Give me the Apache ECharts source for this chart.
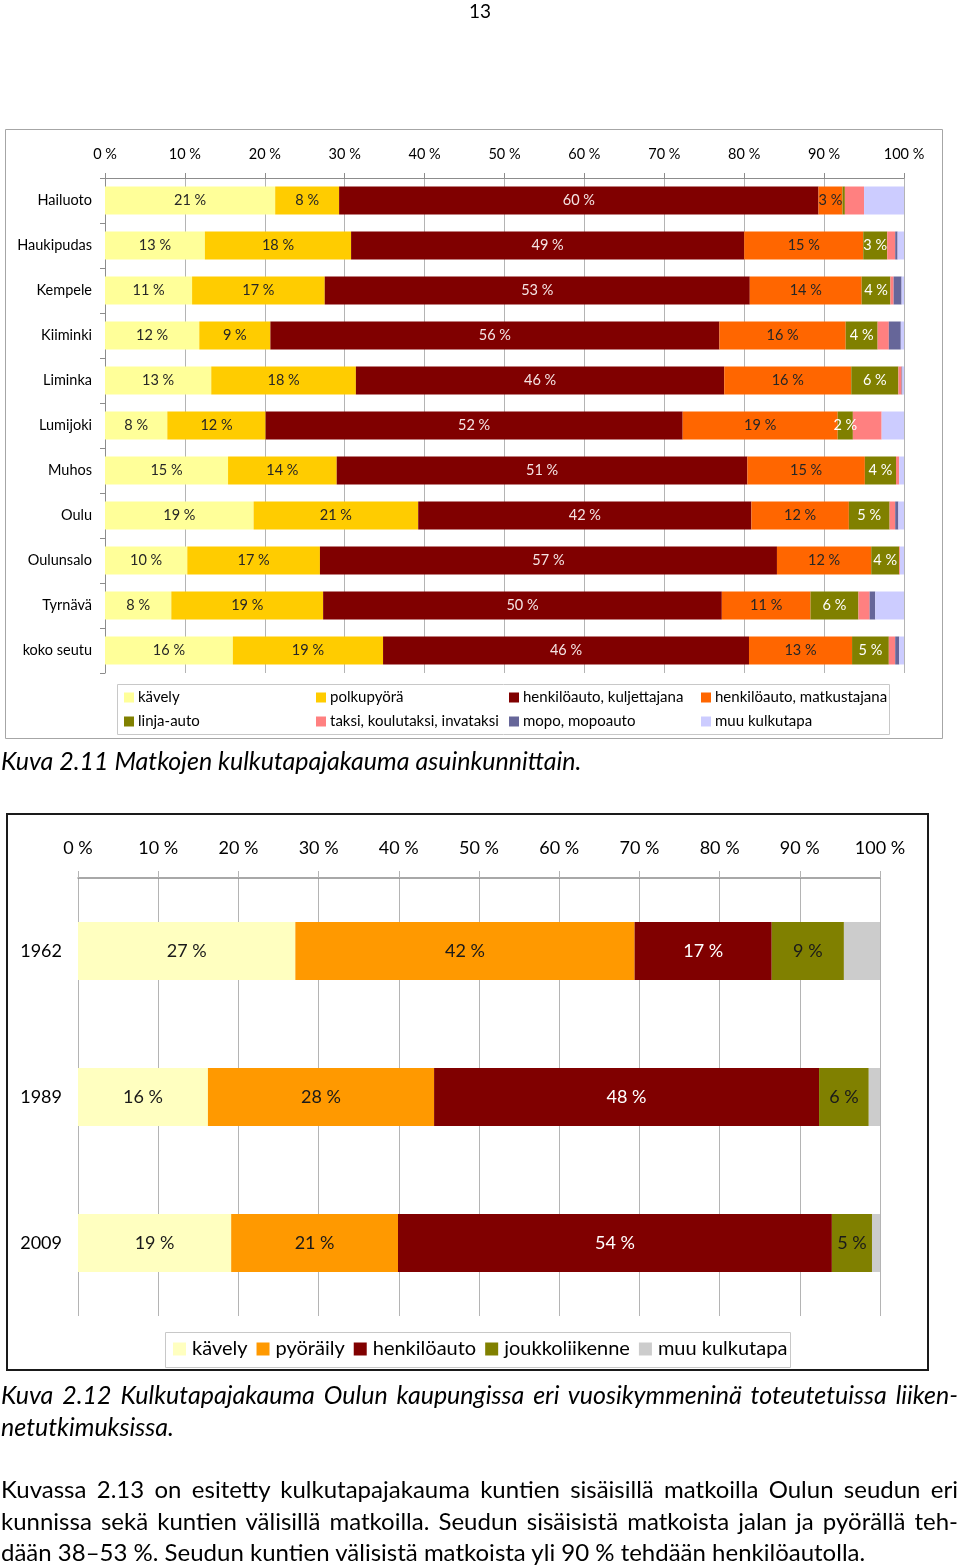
<!DOCTYPE html>
<html>
<head>
<meta charset="utf-8">
<script src="https://cdn.jsdelivr.net/npm/echarts@6/dist/echarts.min.js"></script>
<style>
  html, body { margin: 0; padding: 0; background: #fff; }
  #page { position: relative; width: 960px; height: 1566px; overflow: hidden; }
  #chart { position: absolute; left: 0; top: 0; width: 960px; height: 1566px; }
  .txt { position: absolute; font-family: Lato, "Noto Sans", sans-serif; color: #000; white-space: nowrap; line-height: 30px; }
  .line { position: absolute; left: 1px; width: 957px; font-family: Lato, "Noto Sans", sans-serif; font-size: 24px; line-height: 30px; text-align: justify; text-align-last: justify; white-space: nowrap; color: #000; }
  .line.last { text-align-last: left; }
  .it { font-style: italic; font-size: 25px; }
</style>
</head>
<body>
<div id="page">
  <div id="chart"></div>
  <div class="txt" style="left:469px; top:-4px; font-size:19px;">13</div>
  <div class="txt it" style="left:1px; top:745px;">Kuva 2.11 Matkojen kulkutapajakauma asuinkunnittain.</div>
  <div class="line it" style="top:1379px;">Kuva 2.12 Kulkutapajakauma Oulun kaupungissa eri vuosikymmeninä toteutetuissa liiken-</div>
  <div class="line it last" style="top:1411px;">netutkimuksissa.</div>
  <div class="line" style="top:1474px;">Kuvassa 2.13 on esitetty kulkutapajakauma kuntien sisäisillä matkoilla Oulun seudun eri</div>
  <div class="line" style="top:1506px;">kunnissa sekä kuntien välisillä matkoilla. Seudun sisäisistä matkoista jalan ja pyörällä teh-</div>
  <div class="line last" style="top:1537px;">dään 38–53 %. Seudun kuntien välisistä matkoista yli 90 % tehdään henkilöautolla.</div>
</div>
<script>
// ---------- Chart 1: Kuva 2.11 ----------
var municipalities = ['Hailuoto','Haukipudas','Kempele','Kiiminki','Liminka','Lumijoki','Muhos','Oulu','Oulunsalo','Tyrnävä','koko seutu'];
var modeNames1 = ['kävely','polkupyörä','henkilöauto, kuljettajana','henkilöauto, matkustajana','linja-auto','taksi, koulutaksi, invataksi','mopo, mopoauto','muu kulkutapa'];
var kavely      = [21.3, 12.5, 10.9, 11.8, 13.3,  7.8, 15.4, 18.6, 10.3,  8.3, 16.0];
var polkupyora  = [ 8.0, 18.3, 16.6,  8.9, 18.1, 12.3, 13.6, 20.6, 16.6, 19.0, 18.8];
var kuljettaja  = [60.0, 49.2, 53.2, 56.2, 46.1, 52.2, 51.4, 41.7, 57.2, 49.9, 45.8];
var matkustaja  = [ 3.0, 14.9, 14.0, 15.8, 15.9, 19.4, 14.7, 12.2, 11.8, 11.1, 12.9];
var linjaauto   = [ 0.3,  3.0,  3.6,  4.0,  5.9,  1.9,  3.9,  5.1,  3.5,  6.0,  4.6];
var taksi       = [ 2.4,  1.0,  0.4,  1.4,  0.4,  3.6,  0.4,  0.7,  0.1,  1.4,  0.8];
var mopo        = [ 0.0,  0.3,  1.0,  1.5,  0.1,  0.0,  0.0,  0.4,  0.0,  0.7,  0.5];
var muu1        = [ 5.0,  0.8,  0.3,  0.4,  0.2,  2.8,  0.6,  0.7,  0.5,  3.6,  0.6];

// ---------- Chart 2: Kuva 2.12 ----------
var years = ['1962','1989','2009'];
var modeNames2 = ['kävely','pyöräily','henkilöauto','joukkoliikenne','muu kulkutapa'];
var kavely2   = [27.1, 16.2, 19.1];
var pyoraily  = [42.3, 28.2, 20.8];
var auto2     = [17.1, 48.0, 54.1];
var joukko    = [ 9.0,  6.2,  5.0];
var muu2      = [ 4.5,  1.4,  1.0];

var tickValues = [0,10,20,30,40,50,60,70,80,90,100];

var colors1 = ['#FFFF99','#FFCC00','#800000','#FF6600','#808000','#FF8080','#666699','#CCCCFF'];
var labelColors1 = ['#262626','#262626','#F5E4E4','#262626','#FFFFFF', null, null, null];
var colors2 = ['#FFFFC0','#FF9900','#800000','#808000','#CCCCCC'];
var labelColors2 = ['#1a1a1a','#1a1a1a','#FFFFFF','#1a1a1a', null];

var FONT = 'Lato, "Noto Sans", sans-serif';

function normalize(seriesArr) {
  var n = seriesArr[0].length;
  var totals = [];
  for (var i = 0; i < n; i++) {
    var s = 0;
    seriesArr.forEach(function (a) { s += a[i]; });
    totals.push(s);
  }
  return seriesArr.map(function (a) { return a.map(function (v, i) { return v / totals[i] * 100; }); });
}

var raw1 = [kavely, polkupyora, kuljettaja, matkustaja, linjaauto, taksi, mopo, muu1];
var norm1 = normalize(raw1);
var raw2 = [kavely2, pyoraily, auto2, joukko, muu2];
var norm2 = normalize(raw2);

var series = [];
raw1.forEach(function (arr, k) {
  series.push({
    name: modeNames1[k],
    type: 'bar',
    stack: 's1',
    xAxisIndex: 0, yAxisIndex: 0,
    barWidth: 28,
    data: norm1[k],
    itemStyle: { color: colors1[k] },
    label: {
      show: labelColors1[k] !== null,
      position: 'inside',
      color: labelColors1[k] || '#000',
      fontFamily: FONT, fontSize: 14.5,
      formatter: function (p) { var v = arr[p.dataIndex]; return v >= 1.5 ? Math.round(v) + ' %' : ''; }
    },
    emphasis: { disabled: true },
    animation: false
  });
});
raw2.forEach(function (arr, k) {
  series.push({
    name: modeNames2[k] + ' ',
    type: 'bar',
    stack: 's2',
    xAxisIndex: 1, yAxisIndex: 1,
    barWidth: 58,
    data: norm2[k],
    itemStyle: { color: colors2[k] },
    label: {
      show: labelColors2[k] !== null,
      position: 'inside',
      color: labelColors2[k] || '#000',
      fontFamily: FONT, fontSize: 18,
      formatter: function (p) { var v = arr[p.dataIndex]; return v >= 1.5 ? Math.round(v) + ' %' : ''; }
    },
    emphasis: { disabled: true },
    animation: false
  });
});

// legends for chart 1 (two rows, four fixed columns)
var legendCols = [124, 316, 509, 701];
var legendRows = [690, 714];
var legends = modeNames1.map(function (name, k) {
  return {
    data: [name],
    left: legendCols[k % 4],
    top: legendRows[Math.floor(k / 4)],
    padding: 0,
    itemWidth: 10, itemHeight: 10, itemGap: 4,
    icon: 'rect',
    selectedMode: false,
    textStyle: { fontFamily: FONT, fontSize: 15, color: '#000', padding: [0, 0, 0, -1] }
  };
});
legends.push({
  data: modeNames2.map(function (n) { return n + ' '; }),
  left: 173, top: 1339,
  padding: 0,
  itemWidth: 13, itemHeight: 13, itemGap: 9,
  icon: 'rect',
  selectedMode: false,
  formatter: function (n) { return n.trim(); },
  textStyle: { fontFamily: FONT, fontSize: 20, color: '#000', padding: [0, 0, 0, 1] }
});

var option = {
  animation: false,
  textStyle: { fontFamily: FONT },
  graphic: [
    { type: 'rect', shape: { x: 5.5, y: 129.5, width: 937, height: 609 }, style: { fill: 'none', stroke: '#A6A6A6', lineWidth: 1 }, z: 0 },
    { type: 'rect', shape: { x: 117.5, y: 684.5, width: 772, height: 50 }, style: { fill: 'none', stroke: '#C8C8C8', lineWidth: 1 }, z: 0 },
    { type: 'rect', shape: { x: 7, y: 814, width: 921, height: 556 }, style: { fill: 'none', stroke: '#1a1a1a', lineWidth: 2 }, z: 0 },
    { type: 'rect', shape: { x: 165.5, y: 1332.5, width: 625, height: 35 }, style: { fill: 'none', stroke: '#C8C8C8', lineWidth: 1 }, z: 0 }
  ],
  legend: legends,
  grid: [
    { left: 105, top: 178, width: 799, height: 495, containLabel: false },
    { left: 78, top: 878, width: 802, height: 438, containLabel: false }
  ],
  xAxis: [
    {
      gridIndex: 0, type: 'value', position: 'top', min: 0, max: 100, interval: 10,
      axisLine: { show: true, lineStyle: { color: '#8C8C8C' } },
      axisTick: { show: true, inside: false, length: 5, lineStyle: { color: '#8C8C8C' } },
      splitLine: { show: true, lineStyle: { color: '#B4B4B4' } },
      axisLabel: { margin: 16, fontFamily: FONT, fontSize: 14.5, color: '#000', formatter: '{value} %' }
    },
    {
      gridIndex: 1, type: 'value', position: 'top', min: 0, max: 100, interval: 10,
      axisLine: { show: true, lineStyle: { color: '#8C8C8C', width: 1.5 } },
      axisTick: { show: true, inside: false, length: 7, lineStyle: { color: '#B4B4B4' } },
      splitLine: { show: true, lineStyle: { color: '#B4B4B4' } },
      axisLabel: { margin: 21, fontFamily: FONT, fontSize: 18, color: '#000', formatter: '{value} %' }
    }
  ],
  yAxis: [
    {
      gridIndex: 0, type: 'category', data: municipalities, inverse: true,
      axisLine: { show: true, lineStyle: { color: '#8C8C8C' } },
      axisTick: { show: true, length: 5, lineStyle: { color: '#8C8C8C' } },
      axisLabel: { margin: 13, fontFamily: FONT, fontSize: 14.5, color: '#000' }
    },
    {
      gridIndex: 1, type: 'category', data: years, inverse: true,
      axisLine: { show: false },
      axisTick: { show: false },
      axisLabel: { margin: 16, fontFamily: FONT, fontSize: 18, color: '#000' }
    }
  ],
  series: series
};

var chart = echarts.init(document.getElementById('chart'), null, { renderer: 'canvas' });
chart.setOption(option);
</script>
</body>
</html>
